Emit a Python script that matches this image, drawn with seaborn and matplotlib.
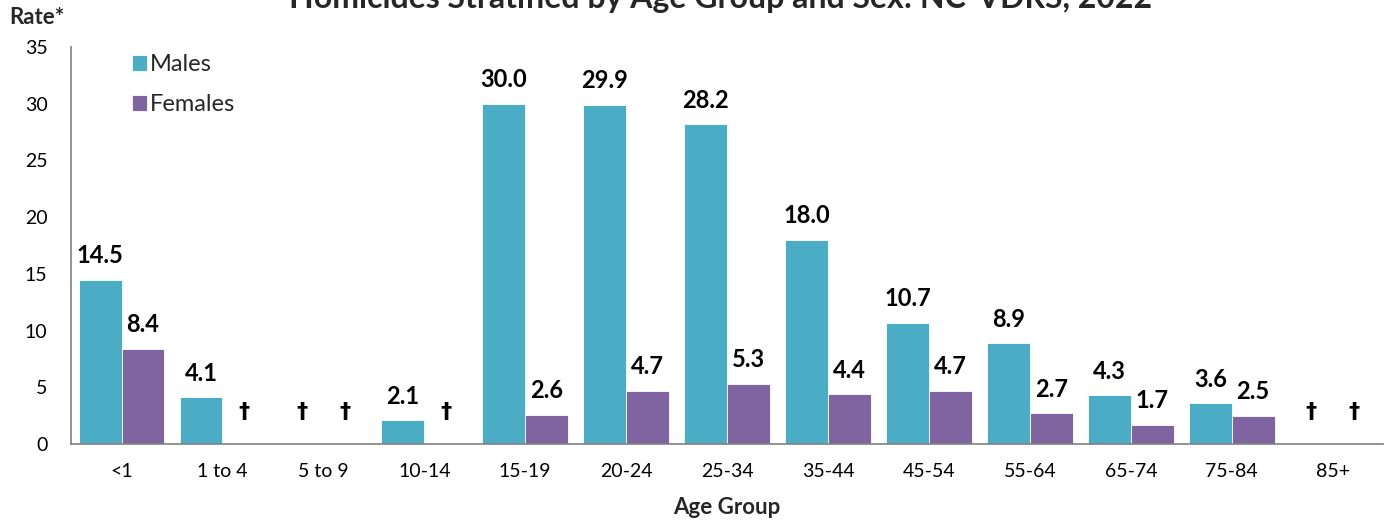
import matplotlib
matplotlib.use("Agg")
import matplotlib.pyplot as plt
import seaborn as sns
import numpy as np
import pandas as pd

age_groups = ["<1", "1 to 4", "5 to 9", "10-14", "15-19", "20-24", "25-34",
              "35-44", "45-54", "55-64", "65-74", "75-84", "85+"]
males = [14.5, 4.1, np.nan, 2.1, 30.0, 29.9, 28.2, 18.0, 10.7, 8.9, 4.3, 3.6, np.nan]
females = [8.4, np.nan, np.nan, np.nan, 2.6, 4.7, 5.3, 4.4, 4.7, 2.7, 1.7, 2.5, np.nan]
sexes = ["Males", "Females"]
colors = {"Males": "#4BACC6", "Females": "#8064A2"}

df = pd.DataFrame({
    "Age Group": age_groups * 2,
    "Sex": ["Males"] * len(age_groups) + ["Females"] * len(age_groups),
    "Rate": males + females,
})

sns.set_theme(style="white")
plt.rcParams['font.family'] = ['Lato', 'DejaVu Sans']

fig = plt.figure(figsize=(13.85, 5.21), dpi=100)
ax = fig.add_axes([0.0513, 0.1478, 0.9473, 0.762])

width = 0.85
sns.barplot(data=df, x="Age Group", y="Rate", hue="Sex", order=age_groups,
            hue_order=sexes, palette=colors, width=width, gap=0,
            saturation=1, edgecolor="white", linewidth=0.6, ax=ax)

# value labels and daggers for suppressed rates
for i, grp in enumerate(age_groups):
    for j, (sex, vals) in enumerate(zip(sexes, [males, females])):
        xpos = i + (j - 0.5) * width / 2
        v = vals[i]
        if np.isnan(v):
            ax.text(xpos, 2.8, "\u2020", ha="center", va="center",
                    fontsize=16, fontweight="bold", color="black",
                    family="DejaVu Sans")
        else:
            ax.annotate(f"{v:.1f}", (xpos, v), xytext=(0, 9),
                        textcoords="offset points", ha="center", va="bottom",
                        fontsize=17, fontweight="bold", color="black")

ax.set_xlim(-0.5, len(age_groups) - 0.5)
ax.set_ylim(0, 35)
ax.set_yticks(range(0, 36, 5))
ax.tick_params(axis="both", length=0, labelsize=14, colors="black")
ax.tick_params(axis="x", pad=14)
ax.tick_params(axis="y", pad=17)
for s in ["top", "right"]:
    ax.spines[s].set_visible(False)
for s in ["left", "bottom"]:
    ax.spines[s].set_color("#808080")
    ax.spines[s].set_linewidth(1.2)

ax.set_ylabel("")
ax.set_xlabel("Age Group", fontsize=16, fontweight="bold", labelpad=12)
fig.text(0.007, 0.967, "Rate*", fontsize=16, fontweight="bold",
         ha="left", va="center")

fig.text(0.52, 1.002, "Homicides Stratified by Age Group and Sex: NC-VDRS, 2022",
         ha="center", va="center", fontsize=23, fontweight="bold")

leg = ax.legend(loc="upper left", bbox_to_anchor=(0.03, 1.035), frameon=False,
                fontsize=17, handlelength=0.65, handleheight=0.65,
                handletextpad=0.12, labelspacing=0.8)

fig.savefig("out.png", dpi=100)
